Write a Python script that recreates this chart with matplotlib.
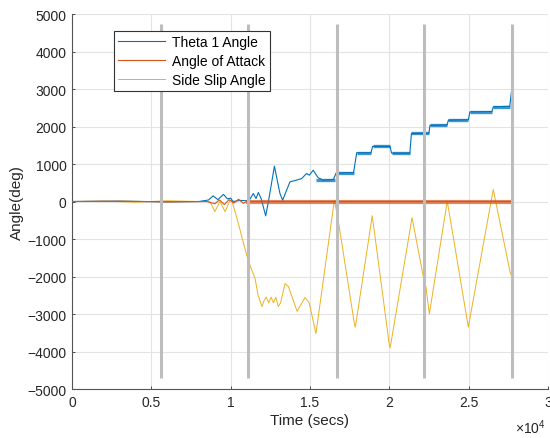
import matplotlib
matplotlib.use("Agg")
import matplotlib.pyplot as plt

plt.rcParams['font.family'] = ['Liberation Sans', 'DejaVu Sans']
plt.rcParams['mathtext.fontset'] = 'custom'
plt.rcParams['mathtext.rm'] = 'Liberation Sans'

# Theta 1 angle (deg) vs time (s)
theta_t = [0, 3000, 6000, 8000, 8600, 8900, 9200, 9550, 9800, 10000, 10150,
           10600, 11000, 11220, 11430, 11600, 11750, 11920, 12060, 12210, 12380,
           12760, 13110, 13280, 13530, 13740, 14160, 14480, 14790, 14960, 15210,
           15380, 15530, 15850, 16480, 16650, 17750, 17950, 18850, 18950, 20050,
           20150, 21300, 21400, 22500, 22570, 23650, 23730, 24990, 25090, 26480,
           26560, 27600, 27720]
theta = [0, 10, -10, 0, 40, 150, 50, 190, 70, 90, 0,
         30, 20, 62, 213, 80, 240, 80, -142, -382, -10,
         942, 213, 35, 302, 524, 570, 613, 747, 702, 835,
         720, 632, 568, 587, 760, 770, 1300, 1300, 1470, 1470,
         1290, 1290, 1810, 1820, 2030, 2040, 2170, 2180, 2390, 2400,
         2525, 2540, 2970]

# noisy plateaus of theta 1 (start, end, level)
band_start = [15400, 16650, 17950, 18950, 20150, 21400, 22570, 23730, 25090, 26560]
band_end = [16550, 17750, 18850, 20050, 21300, 22500, 23650, 24990, 26480, 27600]
band_level = [575, 765, 1300, 1470, 1290, 1815, 2035, 2175, 2395, 2530]

# Angle of attack
aoa_t = [0, 3000, 6000, 8500, 9000, 9300, 9600, 9900, 10200, 10500, 10800, 11000, 27800]
aoa = [0, 10, -10, 0, -60, 40, -80, 50, -40, 60, -50, 0, 0]
aoa_band = [11000, 27800]

# Side slip angle
ss_t = [0, 2000, 4000, 6000, 8000, 8700, 9000, 9330, 9650, 9960, 10070, 10400,
        11010, 11220, 11540, 11730, 11980, 12100, 12250, 12400, 12550, 12700,
        12850, 13000, 13150, 13430, 13650, 14190, 14690, 14950, 15380, 16540,
        16750, 17800, 17850, 17900, 18930, 20000, 20050, 20100, 21440, 22130,
        22320, 22530, 23660, 24950, 24990, 25030, 26560, 27620, 27680, 27750]
ss = [0, 10, -20, 20, 0, 0, -270, 0, -270, 30, 30, -450,
      -1430, -1700, -2050, -2500, -2800, -2650, -2550, -2700, -2550, -2700,
      -2550, -2800, -2700, -2190, -2270, -2930, -2560, -2700, -3520, 35,
      -410, -3250, -3350, -3250, -380, -3800, -3900, -3800, -430, -1960,
      -2290, -3000, 10, -3250, -3350, -3250, 320, -1880, -1950, -1850]

# event markers
marker_t = [5610, 11100, 16710, 22190, 27740]

xticks = [0, 5000, 10000, 15000, 20000, 25000, 30000]
xtick_labels = ['0', '0.5', '1', '1.5', '2', '2.5', '3']
yticks = list(range(-5000, 5001, 1000))

fig = plt.figure(figsize=(5.5, 4.39), dpi=100)
ax = fig.add_axes([0.131, 0.1116, 0.865, 0.8542])

blue = '#0072BD'
orange = '#D95319'
yellow = '#EDB120'

ax.plot(theta_t, theta, color=blue, lw=0.8, label='Theta 1 Angle', zorder=3)
ax.hlines(band_level, band_start, band_end, color=blue, lw=2.4, alpha=0.75, zorder=3)
ax.plot(aoa_t, aoa, color=orange, lw=0.8, label='Angle of Attack', zorder=4)
ax.hlines(0, aoa_band[0], aoa_band[1], color=orange, lw=3, alpha=0.7, zorder=4)
ax.plot(ss_t, ss, color=yellow, lw=0.7, label='Side Slip Angle', zorder=2)
ax.vlines(marker_t, -4700, 4730, color='#bdbdbd', lw=2.2, zorder=5)

ax.set_xlim(0, 30000)
ax.set_ylim(-5000, 5000)
ax.set_xticks(xticks)
ax.set_xticklabels(xtick_labels)
ax.set_yticks(yticks)
ax.grid(True, color='#e3e3e3', lw=0.8)
ax.set_axisbelow(True)
for s in ['top', 'right']:
    ax.spines[s].set_visible(False)
for s in ['left', 'bottom']:
    ax.spines[s].set_color('#555555')
    ax.spines[s].set_linewidth(0.8)
ax.tick_params(direction='in', length=2.5, width=0.6, color='#333333',
               labelsize=10, labelcolor='#262626', pad=4)

ax.set_xlabel('Time (secs)', fontsize=11, color='#262626', labelpad=3)
ax.set_ylabel('Angle(deg)', fontsize=11, color='#262626', labelpad=2)
ax.text(0.995, -0.075, r'$\times10^4$', transform=ax.transAxes, ha='right',
        va='top', fontsize=10, color='#262626')

leg = ax.legend(loc='upper left', bbox_to_anchor=(0.088, 0.955), fontsize=10,
                handlelength=3.4, fancybox=False, framealpha=1,
                edgecolor='#333333', borderpad=0.3, labelspacing=0.35,
                handletextpad=0.5, borderaxespad=0)
leg.get_frame().set_linewidth(0.8)

fig.savefig('out.png', dpi=100)
